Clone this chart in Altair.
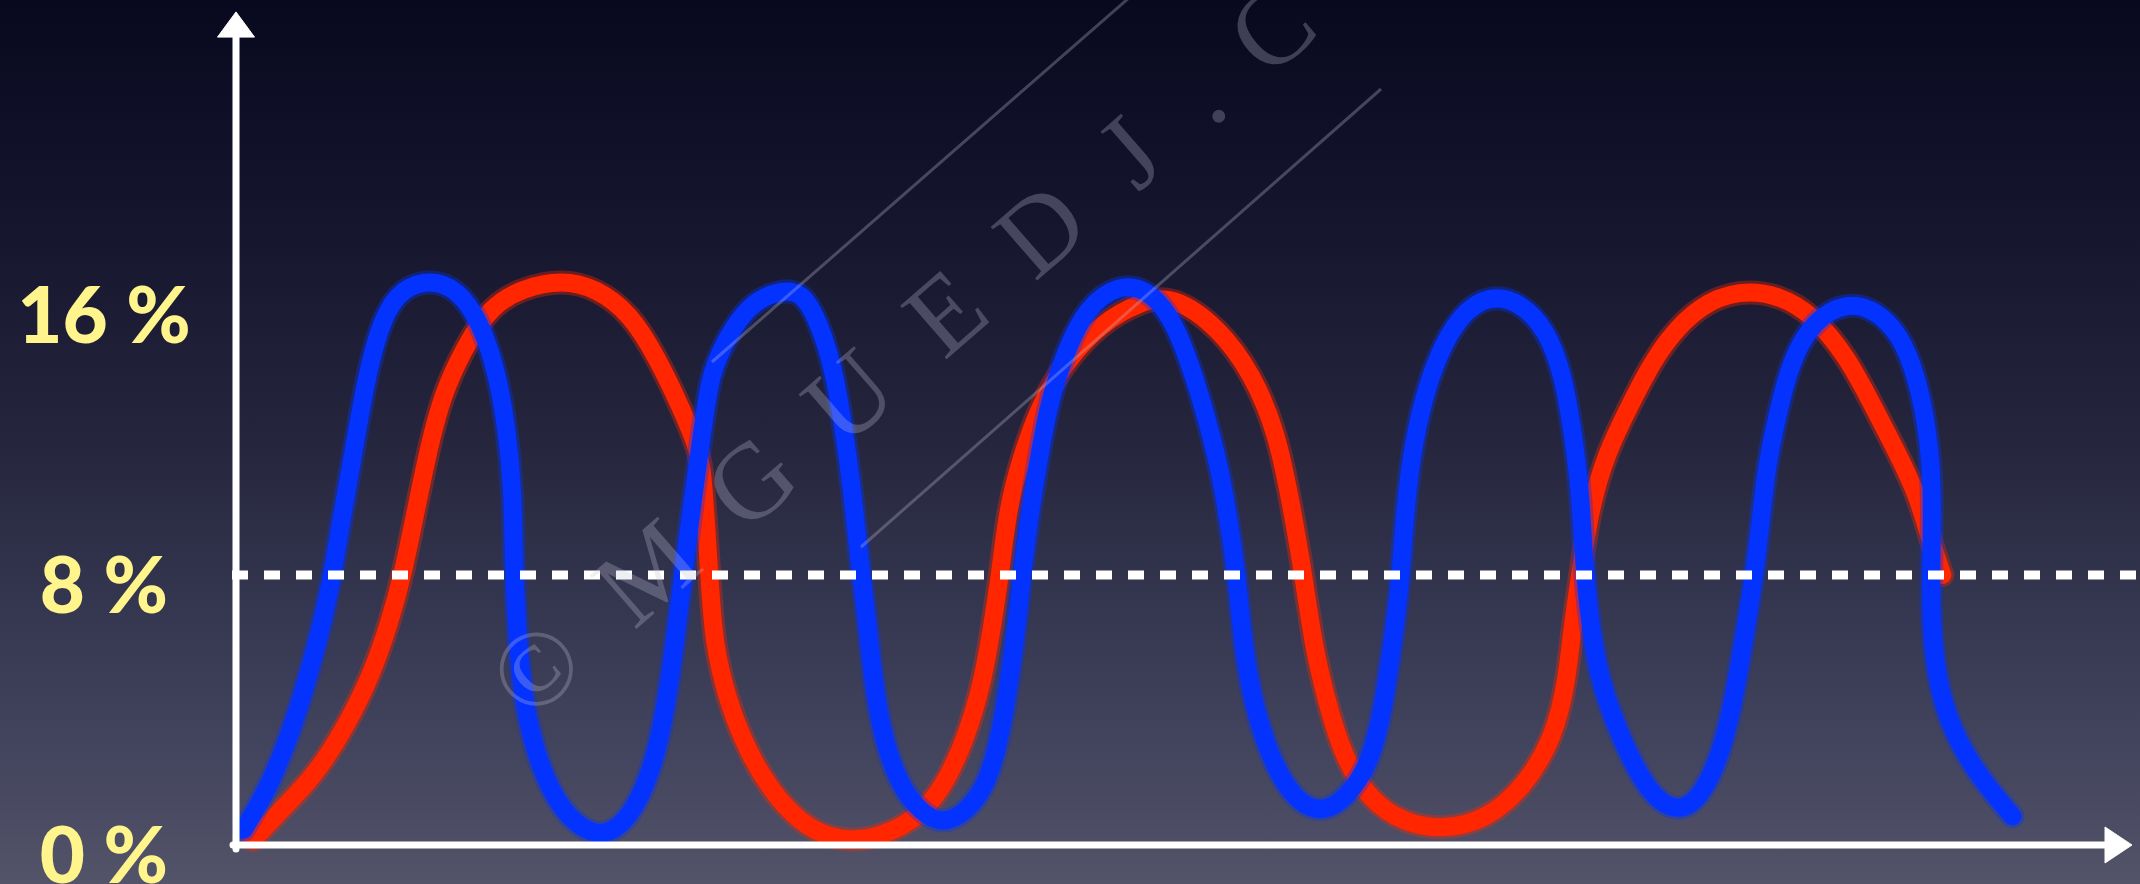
import math
import altair as alt
import pandas as pd

# ---------------- data ----------------
# time axis (arbitrary units, 0 at the origin, 100 at the arrow tip)
blue_t = [0.4, 1.8, 3.2, 4.3, 5.0, 5.5, 6.2, 6.9, 7.75, 8.8,
          10.2, 11.65, 12.9, 13.8, 14.3, 14.6, 14.65, 14.8, 15.1, 16.0,
          17.2, 18.7, 19.9, 21.1, 22.2, 22.9, 23.4, 23.9, 24.6, 25.0,
          25.9, 27.1, 28.7, 29.9, 30.8, 31.5, 32.0, 32.5, 32.9, 33.3,
          33.6, 34.1, 35.0, 36.1, 37.3, 38.5, 39.6, 40.3, 40.8, 41.2,
          41.5, 41.9, 42.4, 42.9, 43.8, 44.9, 46.5, 48.0, 49.3, 50.2,
          51.0, 51.9, 52.4, 52.8, 53.1, 53.6, 54.5, 55.7, 57.2, 58.6,
          59.8, 60.5, 61.0, 61.4, 61.6, 61.9, 62.4, 63.3, 64.6, 66.1,
          67.7, 69.1, 70.0, 70.5, 70.9, 71.1, 71.4, 71.9, 73.0, 74.5,
          76.0, 77.2, 78.3, 79.0, 79.5, 80.0, 80.4, 80.7, 81.3, 82.0,
          83.2, 85.0, 86.5, 87.8, 88.6, 89.2, 89.5, 89.4, 89.4, 89.7,
          90.4, 91.5, 92.7, 93.7]
blue_pct = [0.45, 1.75, 3.8, 6.0, 7.7, 9.45, 11.65, 13.95, 15.7, 16.5,
            16.75, 16.5, 15.5, 13.95, 12.25, 10.55, 8.3, 6.6, 4.3, 2.3,
            0.97, 0.3, 0.35, 1.08, 2.64, 4.9, 7.15, 9.45, 12.25, 13.95,
            15.05, 16.05, 16.45, 16.4, 15.4, 14.15, 12.55, 10.55, 8.3, 6.6,
            4.9, 3.2, 1.76, 0.97, 0.6, 0.97, 1.76, 3.2, 4.9, 6.6,
            8.3, 9.95, 11.65, 13.15, 14.7, 15.95, 16.6, 16.5, 15.7, 14.45,
            13.05, 11.15, 9.45, 7.9, 6.0, 4.3, 2.64, 1.4, 0.9, 1.4,
            2.4, 4.0, 6.0, 7.7, 9.45, 11.15, 12.75, 14.45, 15.75, 16.3,
            16.1, 15.3, 13.95, 12.25, 10.55, 8.3, 6.6, 4.9, 3.2, 1.5,
            0.95, 1.35, 2.64, 4.3, 6.0, 7.7, 9.45, 11.15, 12.75, 14.35,
            15.55, 16.1, 15.85, 15.1, 13.95, 12.45, 10.55, 8.3, 6.6, 4.9,
            3.55, 2.4, 1.5, 0.85]

red_t = [0.9, 2.3, 4.1, 5.8, 7.2, 8.1, 8.8, 9.5, 10.2, 10.9,
         12.0, 13.4, 15.1, 17.2, 19.0, 20.8, 22.2, 23.4, 24.3, 24.6,
         24.8, 25.0, 25.2, 25.9, 27.1, 28.8, 30.6, 32.4, 34.1, 35.9,
         37.3, 38.5, 39.4, 39.9, 40.3, 40.7, 41.4, 42.4, 43.8, 45.6,
         47.7, 49.4, 51.9, 53.6, 54.9, 55.7, 56.3, 56.8, 57.5, 58.4,
         59.8, 61.6, 63.7, 66.0, 67.9, 69.5, 70.2, 70.5, 70.9, 71.4,
         72.3, 73.5, 74.4, 75.5, 77.2, 79.3, 81.4, 83.2, 85.0, 86.3,
         87.6, 88.7, 89.3, 90.0]
red_pct = [0.15, 1.0, 2.0, 3.5, 5.1, 6.6, 8.0, 9.95, 11.85, 13.35,
           14.7, 15.95, 16.5, 16.75, 16.5, 15.75, 14.45, 13.05, 11.85, 11.15,
           9.45, 7.7, 6.0, 4.3, 2.6, 1.15, 0.33, 0.1, 0.27, 0.77,
           1.69, 3.15, 4.85, 6.55, 8.0, 9.95, 11.45, 13.05, 14.35, 15.45,
           16.1, 16.3, 15.3, 13.95, 12.25, 9.95, 8.0, 6.0, 4.3, 2.6,
           1.33, 0.65, 0.44, 0.77, 1.69, 3.15, 4.85, 6.55, 8.0, 9.95,
           11.65, 13.0, 14.0, 15.0, 16.0, 16.45, 16.3, 15.7, 14.45, 13.05,
           11.65, 10.35, 9.15, 8.0]

tick_values = [16, 8, 0]
tick_labels = ["16 %", "8 %", "0 %"]
threshold_pct = 8

watermark_chars = ["©", "M", "G", "U", "E", "D", "J", ".", "C"]

# ---------------- layout ----------------
W, H = 2140, 884
LEFT, BOTTOM = 236, 39
PW, PH = W - LEFT, H - BOTTOM
PX_PER_T = 18.96
PX_PER_PCT = 33.75
T_MAX = PW / PX_PER_T
PCT_MAX = PH / PX_PER_PCT

BLUE = "#0433FF"
RED = "#FF2600"
YELLOW = "#FFF58C"
WHITE = "#FFFFFF"
MARK_GREY = "#c4c4dc"


def to_t(px):
    return (px - LEFT) / PX_PER_T


def to_pct(py):
    return (PH - py) / PX_PER_PCT


xs = alt.Scale(domain=[0, T_MAX], nice=False, zero=False)
ys = alt.Scale(domain=[0, PCT_MAX], nice=False, zero=False)


def X(field):
    return alt.X(field, type="quantitative", scale=xs, axis=None)


def Y(field):
    return alt.Y(field, type="quantitative", scale=ys, axis=None)


one = pd.DataFrame({"k": [0]})

# background gradient covering the whole canvas
gradient = alt.Gradient(
    gradient="linear", x1=0, y1=0, x2=0, y2=1,
    stops=[
        alt.GradientStop(color="#08081f", offset=0.0),
        alt.GradientStop(color="#15162e", offset=0.25),
        alt.GradientStop(color="#25263e", offset=0.5),
        alt.GradientStop(color="#363750", offset=0.7),
        alt.GradientStop(color="#44455e", offset=0.86),
        alt.GradientStop(color="#535369", offset=1.0),
    ],
)
background = alt.Chart(one).mark_rect(fill=gradient).encode(
    x=alt.value(-LEFT), x2=alt.value(PW), y=alt.value(0), y2=alt.value(H)
)


def curve(ts, ps, color):
    df = pd.DataFrame({"t": ts, "pct": ps, "i": list(range(len(ts)))})
    base = alt.Chart(df).encode(x=X("t"), y=Y("pct"), order=alt.Order("i:Q"))
    # soft chalky rim under a solid core
    rim = base.mark_line(
        color=color, strokeWidth=24, opacity=0.35, interpolate="basis",
        strokeCap="round", strokeJoin="round",
    )
    core = base.mark_line(
        color=color, strokeWidth=18, interpolate="basis",
        strokeCap="round", strokeJoin="round",
    )
    return [rim, core]


red_layers = curve(red_t, red_pct, RED)
blue_layers = curve(blue_t, blue_pct, BLUE)

# dashed 8 % threshold
threshold = alt.Chart(
    pd.DataFrame({"t0": [to_t(232)], "t1": [T_MAX], "pct": [threshold_pct]})
).mark_rule(color=WHITE, strokeWidth=9, strokeDash=[16, 16]).encode(
    x=X("t0"), x2="t1:Q", y=Y("pct")
)

# hand-drawn style axes with arrow heads
x_axis = alt.Chart(
    pd.DataFrame({"t0": [to_t(233)], "t1": [to_t(2108)], "pct": [0.0]})
).mark_rule(color=WHITE, strokeWidth=7, strokeCap="round").encode(
    x=X("t0"), x2="t1:Q", y=Y("pct")
)
y_axis = alt.Chart(
    pd.DataFrame({"t": [0.0], "p0": [to_pct(849)], "p1": [to_pct(34)]})
).mark_rule(color=WHITE, strokeWidth=7, strokeCap="round").encode(
    x=X("t"), y=Y("p0"), y2="p1:Q"
)
y_arrow = alt.Chart(
    pd.DataFrame({"t": [0.0], "pct": [to_pct(24.5)]})
).mark_point(
    shape="M0,-0.68L1,0.68L-1,0.68Z", size=37 * 37, filled=True,
    fill=WHITE, stroke=WHITE, strokeWidth=1, opacity=1,
).encode(x=X("t"), y=Y("pct"))
x_arrow = alt.Chart(
    pd.DataFrame({"t": [to_t(2118.5)], "pct": [0.0]})
).mark_point(
    shape="M0.75,0L-0.75,-1L-0.75,1Z", size=36 * 36, filled=True,
    fill=WHITE, stroke=WHITE, strokeWidth=1, opacity=1,
).encode(x=X("t"), y=Y("pct"))

# y tick labels
labels = alt.Chart(
    pd.DataFrame({"pct": tick_values, "label": tick_labels})
).mark_text(
    font="Lato", fontSize=78, fontWeight=900, color=YELLOW,
    align="center", baseline="alphabetic", dy=38,
).encode(x=alt.value(104 - LEFT), y=Y("pct"), text="label:N")

# diagonal watermark: framing lines and spaced letters
ang = math.radians(41)
ux, uy = math.cos(ang), -math.sin(ang)
nx, ny = math.sin(ang), math.cos(ang)
c_x, c_y = 1269.0, 26.0
steps = [975, 828, 690, 560, 432, 306, 188, 97, 0]
wm_rows = []
for ch, s in zip(watermark_chars, steps):
    px = c_x - s * ux + 40 * nx
    py = c_y - s * uy + 40 * ny
    wm_rows.append({"t": to_t(px), "pct": to_pct(py), "ch": ch})
wm_text = alt.Chart(pd.DataFrame(wm_rows)).mark_text(
    font="Liberation Serif", fontSize=108, color=MARK_GREY, opacity=0.28,
    align="center", baseline="alphabetic", angle=319,
).encode(x=X("t"), y=Y("pct"), text="ch:N")

wm_lines = alt.Chart(pd.DataFrame({
    "t0": [to_t(712), to_t(861)],
    "t1": [to_t(1130), to_t(1381)],
    "p0": [to_pct(362), to_pct(547)],
    "p1": [to_pct(-3), to_pct(89)],
})).mark_rule(color=MARK_GREY, strokeWidth=3, opacity=0.3).encode(
    x=X("t0"), x2="t1:Q", y=Y("p0"), y2="p1:Q"
)

chart = alt.layer(
    background, *red_layers, *blue_layers, threshold,
    x_axis, y_axis, y_arrow, x_arrow, labels, wm_lines, wm_text,
).properties(
    width=PW, height=PH,
    padding={"left": LEFT, "top": 0, "right": 0, "bottom": BOTTOM},
    autosize=alt.AutoSizeParams(type="none"),
    background="#26273f",
).configure_view(stroke=None)

chart.save("out.html", embed_options={"renderer": "svg", "actions": False})
